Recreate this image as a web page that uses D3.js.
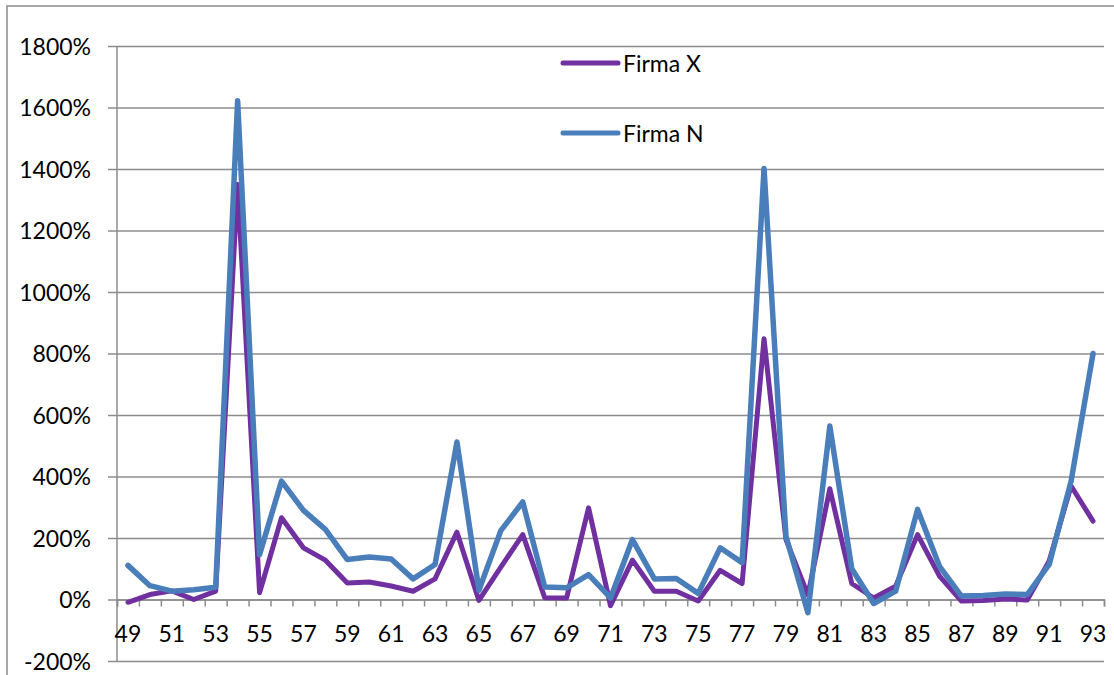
<!DOCTYPE html>
<html>

<head>
    <title>Firma X / Firma N</title>
    <script src="https://d3js.org/d3.v7.min.js"></script>
    <style>
        body { margin: 0; background: #fff; }
        text { font-family: Lato, "Open Sans", sans-serif; fill: #000; }
    </style>
</head>

<body>
    <svg width="1114" height="675"></svg>

    <script>
        // kategorie (lata) i wartości w %
        let years = d3.range(49, 94);
        let firmaX = [-9, 16, 28, 0, 27, 1350, 22, 266, 168, 128, 54, 57, 44, 27, 67,
            219, -3, 105, 211, 6, 5, 298, -20, 128, 27, 27, -5, 95, 52, 848,
            195, 15, 360, 52, 5, 43, 211, 76, -5, -3, 2, -2, 125, 369, 255];
        let firmaN = [111, 45, 27, 32, 40, 1622, 146, 385, 290, 228, 130, 138, 132, 67, 114,
            512, 30, 224, 317, 41, 38, 81, 5, 195, 67, 68, 20, 168, 120, 1402,
            206, -43, 564, 100, -13, 27, 293, 108, 11, 13, 18, 16, 114, 385, 800];
        let yTicks = d3.range(-200, 1801, 200);
        let series = [
            { name: "Firma X", values: firmaX, color: "#7030a0", width: 5 },
            { name: "Firma N", values: firmaN, color: "#4a7ebb", width: 5.5 }
        ];

        let svg = d3.select("svg");
        let plotL = 117, plotR = 1104, plotT = 46, plotB = 661;

        // ramka wykresu
        svg.append("rect")
            .attr("x", 7).attr("y", 6)
            .attr("width", 1120).attr("height", 700)
            .attr("fill", "none").attr("stroke", "#8c8c8c").attr("stroke-width", 1.5);

        let x = d3.scaleBand().domain(years).range([plotL, plotR]);
        let xi = d3.scaleLinear().domain([0, years.length]).range([plotL, plotR]);
        let y = d3.scaleLinear().domain([-200, 1800]).range([plotB, plotT]);

        // siatka + os Y
        let gy = svg.append("g")
            .attr("transform", `translate(${plotL},0)`)
            .call(d3.axisLeft(y).tickValues(yTicks).tickSize(9)
                .tickFormat(d => d + "%"));
        gy.selectAll(".tick line").clone()
            .attr("x2", plotR - plotL);
        gy.selectAll("line").attr("stroke", "#8c8c8c").attr("stroke-width", 1.5);
        gy.select(".domain").remove();
        gy.selectAll("text")
            .attr("x", -26).attr("dy", "0.35em")
            .style("font-size", "23px").style("font-family", "Lato, sans-serif");
        svg.append("line")
            .attr("x1", plotL).attr("x2", plotL).attr("y1", plotT).attr("y2", plotB)
            .attr("stroke", "#8c8c8c").attr("stroke-width", 1.5);

        // os X na poziomie 0%
        let gx = svg.append("g")
            .attr("transform", `translate(0,${y(0)})`)
            .call(d3.axisBottom(xi).tickValues(d3.range(0, years.length + 1)).tickSize(7)
                .tickFormat(""));
        gx.selectAll("line, path").attr("stroke", "#8c8c8c").attr("stroke-width", 1.5);

        svg.append("g")
            .selectAll("text")
            .data(years.filter(d => d % 2 == 1))
            .join("text")
            .attr("x", d => x(d) + x.bandwidth() / 2)
            .attr("y", y(0) + 42)
            .attr("text-anchor", "middle")
            .style("font-size", "23px")
            .text(d => d);

        // linie
        let line = d3.line()
            .x((d, i) => x(years[i]) + x.bandwidth() / 2)
            .y(d => y(d));

        svg.append("g")
            .selectAll("path")
            .data(series)
            .join("path")
            .attr("d", d => line(d.values))
            .attr("fill", "none")
            .attr("stroke", d => d.color)
            .attr("stroke-width", d => d.width)
            .attr("stroke-linejoin", "round")
            .attr("stroke-linecap", "round");

        // legenda
        let lg = svg.append("g")
            .selectAll("g")
            .data(series)
            .join("g")
            .attr("transform", (d, i) => `translate(563,${63 + i * 70})`);
        lg.append("line")
            .attr("x1", 0).attr("x2", 55)
            .attr("stroke", d => d.color)
            .attr("stroke-width", 5)
            .attr("stroke-linecap", "round");
        lg.append("text")
            .attr("x", 60).attr("y", 9)
            .style("font-size", "23px")
            .text(d => d.name);
    </script>
</body>

</html>
